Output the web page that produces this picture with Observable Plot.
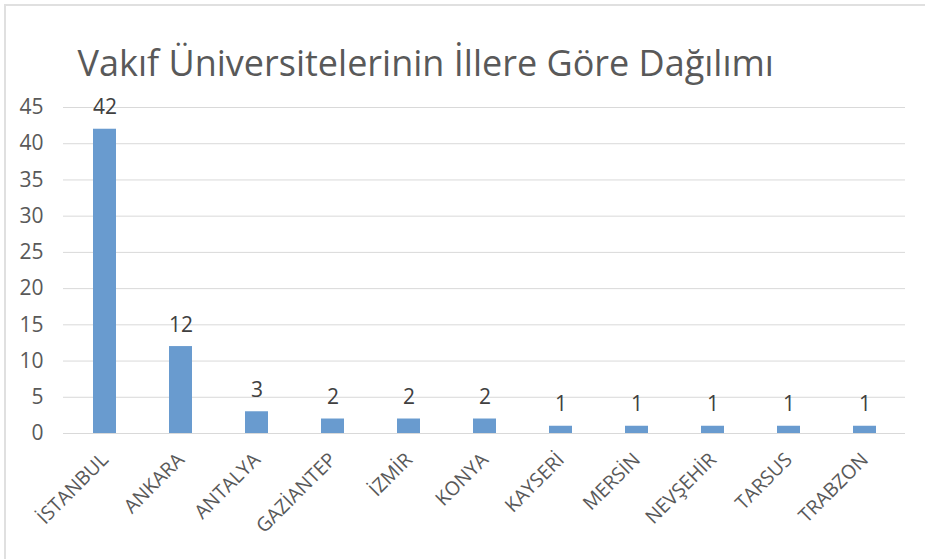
<!DOCTYPE html>
<html>
<head>
<meta charset="utf-8">
<script src="https://cdn.jsdelivr.net/npm/d3@7"></script>
<script src="https://cdn.jsdelivr.net/npm/@observablehq/plot@0.6"></script>
<style>
  html, body { margin: 0; padding: 0; background: #fff; }
  #chart { position: relative; width: 925px; height: 559px; overflow: hidden; }
  #chart svg { position: absolute; left: 0; top: 0; }
  .bt { position: absolute; left: 4px; top: 4px; width: 921px; height: 2px; background: #e0e0e0; z-index: 5; }
  .bl { position: absolute; left: 4px; top: 4px; width: 2px; height: 555px; background: #e0e0e0; z-index: 5; }
</style>
</head>
<body>
<div id="chart"><div class="bt"></div><div class="bl"></div></div>
<script>
const title = "Vakıf Üniversitelerinin İllere Göre Dağılımı";
const cities = ["İSTANBUL", "ANKARA", "ANTALYA", "GAZİANTEP", "İZMİR", "KONYA", "KAYSERİ", "MERSİN", "NEVŞEHİR", "TARSUS", "TRABZON"];
const counts = [42, 12, 3, 2, 2, 2, 1, 1, 1, 1, 1];
const yTicks = [0, 5, 10, 15, 20, 25, 30, 35, 40, 45];

const data = cities.map((c, i) => ({city: c, n: counts[i]}));

const plot = Plot.plot({
  width: 925,
  height: 559,
  marginTop: 107,
  marginBottom: 126,
  marginLeft: 63,
  marginRight: 20,
  style: {fontFamily: "'Open Sans', 'Noto Sans', sans-serif", fontSize: "19px", background: "transparent", color: "#595959"},
  x: {domain: cities, paddingInner: 0.7, paddingOuter: 0.35, axis: null},
  y: {domain: [0, 45], ticks: yTicks, axis: null},
  marks: [
    Plot.ruleY(yTicks, {stroke: "#d9d9d9", strokeWidth: 1}),
    Plot.barY(data, {x: "city", y: "n", fill: "#699BCF"}),
    Plot.text(data, {x: "city", y: "n", text: d => String(d.n), dy: -15, lineAnchor: "bottom",
      fontSize: 21, fill: "#404040"}),
    // y tick labels
    Plot.text(yTicks, {y: d => d, text: d => String(d), frameAnchor: "left", dx: -20,
      textAnchor: "end", fontSize: 21, fill: "#595959"}),
    // x tick labels
    Plot.text(cities, {x: d => d, text: d => d, frameAnchor: "bottom", dy: 23, rotate: -45,
      textAnchor: "end", lineAnchor: "middle", fontSize: 19.5, fill: "#595959"}),
    Plot.text([title], {frameAnchor: "top-left", dx: 14, dy: -32, text: d => d, fontSize: 36,
      fill: "#595959", textAnchor: "start", lineAnchor: "bottom"})
  ]
});
document.getElementById("chart").prepend(plot);
</script>
</body>
</html>
